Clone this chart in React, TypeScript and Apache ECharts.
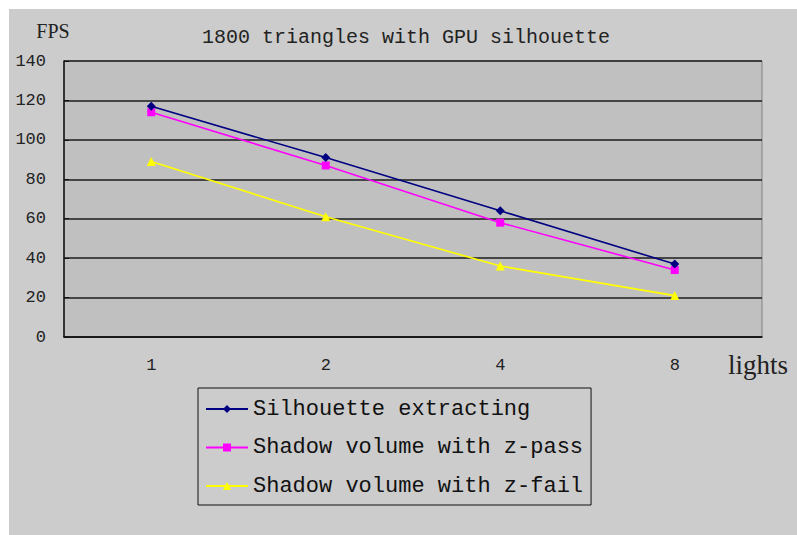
import React, { useEffect, useRef } from "react";
import * as echarts from "echarts";

const categories = ["1", "2", "4", "8"];
const silhouette = [117, 91, 64, 37];
const zPass = [114, 87, 58, 34];
const zFail = [89, 61, 36, 21];
const seriesNames = [
  "Silhouette extracting",
  "Shadow volume with z-pass",
  "Shadow volume with z-fail",
];
const titleText = "1800 triangles with GPU silhouette";
const yName = "FPS";
const xName = "lights";

export default function App() {
  const ref = useRef<HTMLDivElement>(null);
  useEffect(() => {
    document.body.style.margin = "0";
    const chart = echarts.init(ref.current!, null, { renderer: "svg" });
    const mono = "Liberation Mono";
    const serif = "Liberation Serif";
    chart.setOption({
      animation: false,
      backgroundColor: "#ffffff",
      graphic: [
        {
          type: "rect",
          z: -10,
          shape: { x: 9, y: 9, width: 800, height: 540 },
          style: { fill: "#cccccc" },
          silent: true,
        },
        {
          type: "text",
          x: 406,
          y: 37,
          style: {
            text: titleText,
            font: `20px "${mono}"`,
            fill: "#222",
            align: "center",
            verticalAlign: "middle",
          },
        },
        {
          type: "text",
          x: 53,
          y: 31,
          style: {
            text: yName,
            font: `20px "${serif}"`,
            fill: "#222",
            align: "center",
            verticalAlign: "middle",
          },
        },
        {
          type: "text",
          x: 758,
          y: 365,
          style: {
            text: xName,
            font: `27px "${serif}"`,
            fill: "#222",
            align: "center",
            verticalAlign: "middle",
          },
        },
      ],
      grid: {
        left: 64,
        right: 35,
        top: 61,
        bottom: 198,
        show: true,
        backgroundColor: "#c0c0c0",
        borderColor: "#808080",
        borderWidth: 1,
      },
      legend: {
        orient: "vertical",
        left: 198,
        top: 388,
        padding: [8, 8, 6, 7],
        itemGap: 12.5,
        itemWidth: 42,
        itemHeight: 10,
        backgroundColor: "#cccccc",
        borderColor: "#111",
        borderWidth: 1,
        textStyle: {
          fontFamily: mono,
          fontSize: 22,
          lineHeight: 26,
          color: "#111",
        },
        data: seriesNames,
      },
      xAxis: {
        type: "category",
        data: categories,
        boundaryGap: true,
        axisLine: { lineStyle: { color: "#111", width: 1.5 } },
        axisTick: { inside: true, length: 4, lineStyle: { color: "#111" } },
        axisLabel: {
          fontFamily: mono,
          fontSize: 17,
          color: "#222",
          margin: 20,
        },
        splitLine: { show: false },
      },
      yAxis: {
        type: "value",
        min: 0,
        max: 140,
        interval: 20,
        axisLine: { show: true, lineStyle: { color: "#111", width: 1.5 } },
        axisTick: { show: true, inside: true, length: 5, lineStyle: { color: "#111" } },
        axisLabel: {
          fontFamily: mono,
          fontSize: 17,
          color: "#222",
          margin: 18,
        },
        splitLine: { show: true, lineStyle: { color: "#1c1c1c", width: 1.6 } },
      },
      series: [
        {
          name: seriesNames[0],
          type: "line",
          data: silhouette,
          symbol: "diamond",
          symbolSize: 9,
          itemStyle: { color: "#000080" },
          lineStyle: { color: "#000080", width: 1.6 },
          z: 5,
        },
        {
          name: seriesNames[1],
          type: "line",
          data: zPass,
          symbol: "rect",
          symbolSize: 8,
          itemStyle: { color: "#ff00ff" },
          lineStyle: { color: "#ff00ff", width: 1.6 },
          z: 4,
        },
        {
          name: seriesNames[2],
          type: "line",
          data: zFail,
          symbol: "triangle",
          symbolSize: 9,
          itemStyle: { color: "#ffff00" },
          lineStyle: { color: "#ffff00", width: 1.6 },
          z: 3,
        },
      ],
    });
    return () => chart.dispose();
  }, []);
  return <div ref={ref} style={{ width: 797, height: 535 }} />;
}
